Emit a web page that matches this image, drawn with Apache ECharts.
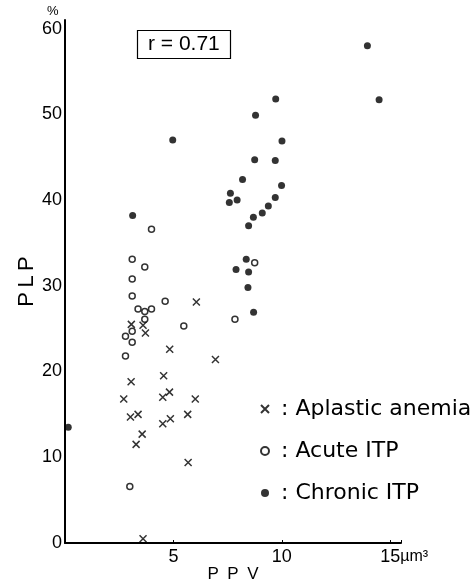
<!DOCTYPE html>
<html>
<head>
<meta charset="utf-8">
<script src="https://cdn.jsdelivr.net/npm/echarts@6/dist/echarts.min.js"></script>
<style>
html,body{margin:0;padding:0;background:#fff;}
#c{width:475px;height:586px;}
</style>
</head>
<body>
<div id="c"></div>
<script>
// ---- data ----
const seriesNames = ['Aplastic anemia', 'Acute ITP', 'Chronic ITP'];
const aplastic = [
  [6.06,28.1],[3.06,25.5],[3.60,25.4],[3.71,24.5],[4.83,22.6],[6.94,21.4],
  [4.55,19.5],[3.05,18.8],[2.71,16.8],[4.51,17.0],[4.82,17.6],[6.01,16.8],
  [3.02,14.7],[3.37,15.0],[5.66,15.0],[4.51,13.9],[4.86,14.5],[3.56,12.7],
  [3.28,11.5],[5.68,9.4],[3.60,0.5]
];
const acute = [
  [3.99,36.6],[3.10,33.1],[3.68,32.2],[3.10,30.8],[3.10,28.8],[4.62,28.2],
  [3.37,27.3],[3.68,27.0],[3.99,27.3],[3.68,26.1],[5.48,25.3],[7.84,26.1],
  [8.75,32.7],[2.79,24.1],[3.10,24.7],[3.10,23.4],[2.79,21.8],[2.99,6.6]
];
const chronic = [
  [4.97,47.0],[3.12,38.2],[13.95,58.0],[14.49,51.7],[9.72,51.8],[8.79,49.9],
  [10.01,46.9],[8.75,44.7],[9.70,44.6],[8.19,42.4],[7.63,40.8],[7.58,39.7],
  [7.94,40.0],[9.99,41.7],[9.70,40.3],[9.38,39.3],[9.10,38.5],[8.69,38.0],
  [8.47,37.0],[8.36,33.1],[7.89,31.9],[8.47,31.6],[8.44,29.8],[8.70,26.9],
  [0.15,13.5]
];
const xTickLabels = [5, 10, 15];
const yTickLabels = [0, 10, 20, 30, 40, 50, 60];
const correlationText = 'r = 0.71';
const xAxisTitle = 'P\u2002P\u2002V';
const yAxisTitle = 'P\u2009L\u2009P';

// ---- chart ----
const chart = echarts.init(document.getElementById('c'), null, {renderer: 'canvas'});
const FONT = 'Liberation Sans';
const crossPath = 'path://M0,0L10,10M10,0L0,10';

chart.setOption({
  animation: false,
  backgroundColor: '#fff',
  title: {
    text: correlationText,
    left: 137, top: 30,
    padding: [4, 11, 4, 11],
    borderColor: '#000', borderWidth: 1.2,
    textStyle: {fontFamily: FONT, fontSize: 21, fontWeight: 'normal', color: '#000'}
  },
  legend: {
    orient: 'vertical',
    left: 255, top: 393,
    itemWidth: 8, itemHeight: 8,
    itemGap: 20,
    selectedMode: false,
    data: seriesNames,
    formatter: n => ' : ' + n,
    textStyle: {fontFamily: 'DejaVu Sans', fontSize: 22, color: '#000'}
  },
  grid: {left: 65, top: 20, width: 336, height: 523, containLabel: false, outerBoundsMode: 'none'},
  xAxis: {
    type: 'value', min: 0, max: 15.5, interval: 5,
    name: xAxisTitle, nameLocation: 'middle', nameGap: 23, nameMoveOverlap: false,
    nameTextStyle: {fontFamily: FONT, fontSize: 17, color: '#000'},
    axisLine: {show: true, onZero: false, lineStyle: {color: '#000', width: 2}},
    axisTick: {show: true, inside: true, length: 3, lineStyle: {color: '#000'}},
    splitLine: {show: false},
    axisLabel: {
      margin: 5, color: '#000', fontFamily: FONT, fontSize: 18,
      formatter: v => {
        if (xTickLabels.indexOf(v) < 0) return '';
        if (v === 15) return '{h|µm³}15{u|µm³}';
        return String(v);
      },
      rich: {
        h: {fontFamily: FONT, fontSize: 16, color: 'rgba(0,0,0,0)'},
        u: {fontFamily: FONT, fontSize: 16, color: '#000'}
      }
    }
  },
  yAxis: {
    type: 'value', min: 0, max: 61, interval: 10,
    name: yAxisTitle, nameLocation: 'middle', nameGap: 27, nameRotate: 90, nameMoveOverlap: false,
    nameTextStyle: {fontFamily: FONT, fontSize: 22, color: '#000'},
    axisLine: {show: true, onZero: false, lineStyle: {color: '#000', width: 2}},
    axisTick: {show: false},
    splitLine: {show: false},
    axisLabel: {
      margin: 3, color: '#000', fontFamily: FONT, fontSize: 18,
      formatter: v => (yTickLabels.indexOf(v) >= 0 ? String(v) : '')
    }
  },
  graphic: [{
    type: 'text', left: 47, top: 5,
    style: {text: '%', fontFamily: FONT, fontSize: 13, fill: '#000'}
  }],
  series: [
    {
      name: seriesNames[0], type: 'scatter', data: aplastic,
      symbol: crossPath, symbolSize: 7,
      itemStyle: {color: 'rgba(0,0,0,0)', borderColor: '#000', borderWidth: 1.5},
      emphasis: {disabled: true}
    },
    {
      name: seriesNames[1], type: 'scatter', data: acute,
      symbol: 'circle', symbolSize: 6,
      itemStyle: {color: '#fff', borderColor: '#000', borderWidth: 1.5},
      emphasis: {disabled: true}
    },
    {
      name: seriesNames[2], type: 'scatter', data: chronic,
      symbol: 'circle', symbolSize: 7,
      itemStyle: {color: '#000', borderWidth: 0},
      emphasis: {disabled: true}
    }
  ]
});
</script>
</body>
</html>
